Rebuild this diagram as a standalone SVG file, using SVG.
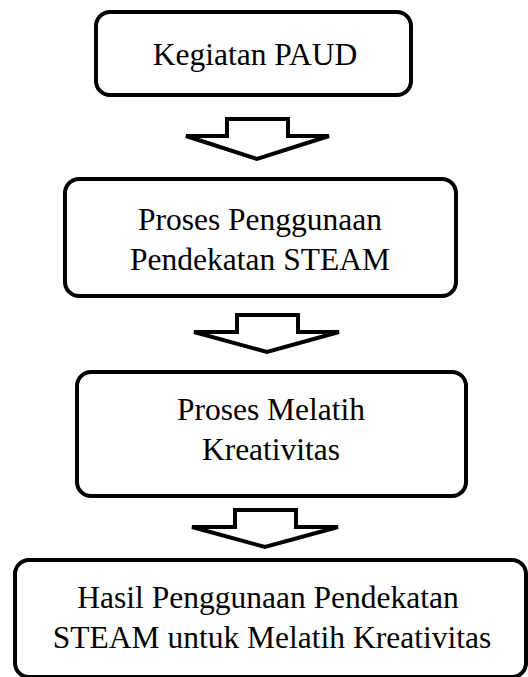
<svg xmlns="http://www.w3.org/2000/svg" width="528" height="677" viewBox="0 0 528 677">
<style>
.box{fill:#fff;stroke:#000;stroke-width:4}
.arr{fill:#fff;stroke:#000;stroke-width:4;stroke-linejoin:miter}
.t{font-family:"Liberation Serif","Times New Roman",serif;font-size:31.5px;fill:#000;text-anchor:middle}
</style>
<rect width="528" height="677" fill="#fff"/>
<g id="connectors">
<polygon class="arr" points="227,119 288,119 288,136 329,136 257,159 186,136 227,136"/>
<polygon class="arr" points="237,315 298,315 298,332 339,332 267,352 194,332 237,332"/>
<polygon class="arr" points="235,510 296,510 296,527 338,527 265,547 192,527 235,527"/>
</g>
<g id="node1">
<rect class="box" x="96" y="12" width="315" height="83" rx="14"/>
<text class="t" x="255" y="65">Kegiatan PAUD</text>
</g>
<g id="node2">
<rect class="box" x="65" y="179" width="391" height="117" rx="14"/>
<text class="t" x="260" y="230">Proses Penggunaan</text>
<text class="t" x="260" y="270">Pendekatan STEAM</text>
</g>
<g id="node3">
<rect class="box" x="77" y="372" width="389" height="124" rx="14"/>
<text class="t" x="271" y="420">Proses Melatih</text>
<text class="t" x="271" y="460">Kreativitas</text>
</g>
<g id="node4">
<rect class="box" x="15" y="560" width="511" height="117" rx="14"/>
<text class="t" x="268" y="608">Hasil Penggunaan Pendekatan</text>
<text class="t" x="272" y="648">STEAM untuk Melatih Kreativitas</text>
</g>
</svg>
